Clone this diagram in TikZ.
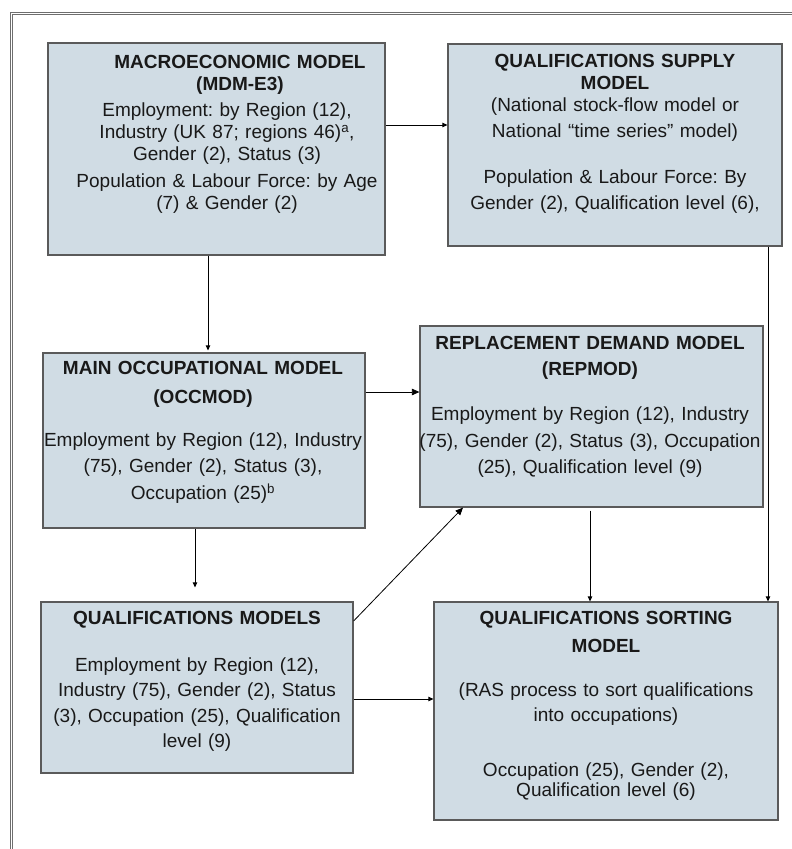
\documentclass[tikz,border=0pt]{standalone}
\usepackage{fontspec}
\setmainfont{Liberation Sans}
\usetikzlibrary{arrows.meta}
\definecolor{boxfill}{RGB}{208,220,228}
\definecolor{boxline}{RGB}{90,90,90}
\definecolor{framegray}{RGB}{110,110,110}
\definecolor{ink}{RGB}{25,25,25}
\frenchspacing

\begin{document}
\begin{tikzpicture}[x=1pt,y=-1pt,
  model/.style={draw=boxline,line width=1.2pt,fill=boxfill,inner sep=0pt},
  modeltext/.style={anchor=north,inner sep=0pt,align=center,text width=#1,text=ink},
  link/.style={line width=0.8pt,-{Triangle[length=5pt,width=4.5pt]}},
  biglink/.style={line width=0.8pt,-{Triangle[length=7.5pt,width=6.5pt]}}]
  \useasboundingbox (0,0) rectangle (792,849);

  %frame
  \draw[framegray,line width=1pt] (10,849) -- (10,12) -- (792,12);
  \draw[framegray,line width=1pt] (12.5,849) -- (12.5,14.5) -- (792,14.5);

  %boxes
  \node[model,minimum width=337pt,minimum height=212pt] (macro) at (216.5,149) {};
  \node[model,minimum width=334pt,minimum height=202pt] (supply) at (615,145) {};
  \node[model,minimum width=322pt,minimum height=175pt] (occ) at (204,440.5) {};
  \node[model,minimum width=343pt,minimum height=181pt] (repmod) at (591.5,416.5) {};
  \node[model,minimum width=312pt,minimum height=171pt] (qual) at (197,687.5) {};
  \node[model,minimum width=344pt,minimum height=218pt] (sorting) at (606,711) {};

  %texts
  \node[modeltext=340pt,font=\fontsize{19}{22}\selectfont] (macrotext) at (227,55)
    {\textbf{\hspace*{26pt}MACROECONOMIC MODEL}\\
     \textbf{\hspace*{26pt}(MDM-E3)}\\[4pt]
     Employment: by Region (12),\\
     Industry (UK 87; regions 46)\textsuperscript{a},\\
     Gender (2), Status (3)\\[5pt]
     Population \& Labour Force: by Age\\
     (7) \& Gender (2)};
  \node[modeltext=340pt,font=\fontsize{19}{22}\selectfont] (supplytext) at (615,54)
    {\textbf{QUALIFICATIONS SUPPLY}\\
     \textbf{MODEL}\\
     (National stock-flow model or\\[4pt]
     National “time series” model)\\[24pt]
     Population \& Labour Force: By\\[4pt]
     Gender (2), Qualification level (6),};
  \node[modeltext=340pt,font=\fontsize{19}{26.5}\selectfont] (occtext) at (203,361)
    {\textbf{MAIN OCCUPATIONAL MODEL}\\[2.5pt]
     \textbf{(OCCMOD)}\\[16.5pt]
     Employment by Region (12), Industry\\
     (75), Gender (2), Status (3),\\
     Occupation (25)\textsuperscript{b}};
  \node[modeltext=370pt,font=\fontsize{19}{26.5}\selectfont] (repmodtext) at (590,336)
    {\textbf{REPLACEMENT DEMAND MODEL}\\
     \textbf{(REPMOD)}\\[18.5pt]
     Employment by Region (12), Industry\\
     (75), Gender (2), Status (3), Occupation\\
     (25), Qualification level (9)};
  \node[modeltext=330pt,font=\fontsize{19}{25.5}\selectfont] (qualtext) at (197,611)
    {\textbf{QUALIFICATIONS MODELS}\\[21.5pt]
     Employment by Region (12),\\
     Industry (75), Gender (2), Status\\
     (3), Occupation (25), Qualification\\
     level (9)};
  \node[modeltext=340pt,font=\fontsize{19}{26}\selectfont] (sortingtext) at (606,611)
    {\textbf{QUALIFICATIONS SORTING}\\[2pt]
     \textbf{MODEL}\\[18pt]
     (RAS process to sort qualifications\\[-1pt]
     into occupations)\\[29pt]
     Occupation (25), Gender (2),\\[-6pt]
     Qualification level (6)};

  %arrows
  \draw[link] ([yshift=24pt]macro.east) -- ([yshift=24pt]macro.east -| supply.west);
  \draw[link,shorten >=2pt] ([xshift=-8.5pt]macro.south) -- ([xshift=-8.5pt]macro.south |- occ.north);
  \draw[biglink] ([yshift=48.5pt]occ.east) -- ([yshift=48.5pt]occ.east -| repmod.west);
  \draw[link] ([xshift=153pt]supply.south) -- ([xshift=153pt]supply.south |- sorting.north);
  \draw[link,shorten >=14pt] ([xshift=-9pt]occ.south) -- ([xshift=-9pt]occ.south |- qual.north);
  \draw[biglink] ([yshift=66.5pt]qual.east) -- ([xshift=-128.5pt]repmod.south);
  \draw[link,shorten <=3pt] ([xshift=-1.5pt]repmod.south) -- ([xshift=-1.5pt]repmod.south |- sorting.north);
  \draw[link] ([yshift=-11.5pt]qual.east) -- ([yshift=-11.5pt]qual.east -| sorting.west);
\end{tikzpicture}
\end{document}
